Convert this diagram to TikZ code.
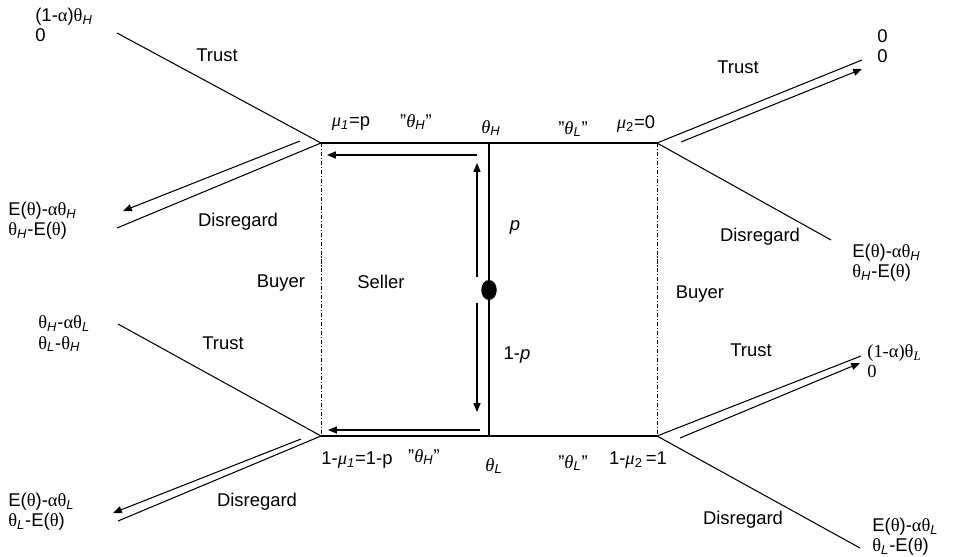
\documentclass[tikz,border=0pt]{standalone}
\usepackage{fontspec}
\setmainfont{Liberation Sans}
\newfontfamily\gk{Liberation Serif}
\usetikzlibrary{arrows.meta,shapes.geometric}
\newcommand\tht{{\gk θ}}
\newcommand\alp{{\gk α}}
\newcommand\ith{{\gk\itshape θ}}
\newcommand\imu{{\gk\itshape μ}}
\newcommand\sH{\textsubscript{\itshape H}}
\newcommand\sL{\textsubscript{\itshape L}}
\newcommand\qt{\char34\relax}
\tikzset{
	lbl/.style={font=\fontsize{10.5}{11.4}\selectfont, inner sep=0pt},
	pay/.style={lbl, align=left, anchor=west},
	edge/.style={line width=0.6pt},
	info/.style={line width=0.5pt, dash pattern=on 2.3pt off 1.1pt on 0.6pt off 1.1pt},
	move/.style={line width=0.6pt, -{Triangle[length=5pt,width=4pt]}},
	chance/.style={ellipse, fill=black, inner sep=0pt, minimum width=0.31cm, minimum height=0.4cm}
}

\begin{document}
\begin{tikzpicture}[x=0.02cm, y=-0.02cm]
			%%%%% START %%%%%
			\def\xa{321}
			\def\xm{489}
			\def\xb{657}
			\def\yh{143}
			\def\yl{436}
			\useasboundingbox (0,0) rectangle (953,557);
			
			\coordinate (bH) at (\xa,\yh);
			\coordinate (bL) at (\xa,\yl);
			\coordinate (cH) at (\xb,\yh);
			\coordinate (cL) at (\xb,\yl);
			\coordinate (sH) at (\xm,\yh);
			\coordinate (sL) at (\xm,\yl);
			
			\coordinate (trustA) at (117,33);
			\coordinate (disA) at (117,228);
			\coordinate (trustB) at (118,324);
			\coordinate (disB) at (118,521);
			\coordinate (trustC) at (862,60);
			\coordinate (disC) at (831,240);
			\coordinate (trustD) at (861,356);
			\coordinate (disD) at (860,548);
			
			% tree
			\draw[edge] (bH) -- (cH);
			\draw[edge] (bL) -- (cL);
			\draw[edge] (sH) -- (sL);
			\draw[info] (bH) -- (bL);
			\draw[info] (cH) -- (cL);
			\draw[edge] (trustA) -- (bH) -- (disA);
			\draw[edge] (trustB) -- (bL) -- (disB);
			\draw[edge] (trustC) -- (cH) -- (disC);
			\draw[edge] (trustD) -- (cL) -- (disD);
			\node[chance] (nature) at (\xm,290) {};
			
			% equilibrium path
			\coordinate (upS) at (477,277);
			\coordinate (upE) at (477,163);
			\coordinate (dnS) at (477,303);
			\coordinate (dnE) at (477,412);
			\coordinate (topS) at (477,155);
			\coordinate (topE) at (327,155);
			\coordinate (botS) at (480,430);
			\coordinate (botE) at (328,430);
			\coordinate (arA1) at (300,141);
			\coordinate (arA2) at (123,211);
			\coordinate (arB1) at (301,439);
			\coordinate (arB2) at (113,513);
			\coordinate (arC1) at (681,142);
			\coordinate (arC2) at (862,69);
			\coordinate (arD1) at (680,438);
			\coordinate (arD2) at (860,363);
			\draw[move] (upS) -- (upE);
			\draw[move] (dnS) -- (dnE);
			\draw[move] (topS) -- (topE);
			\draw[move] (botS) -- (botE);
			\draw[move] (arA1) -- (arA2);
			\draw[move] (arB1) -- (arB2);
			\draw[move] (arC1) -- (arC2);
			\draw[move] (arD1) -- (arD2);
			
			% labels
			\node[lbl] (lmu1) at (351,124) {\imu\textsubscript{\itshape 1}=p};
			\node[lbl] (lsHq) at (416,122) {\qt\ith\sH\qt};
			\node[lbl] (lthH) at (491,128) {\ith\sH};
			\node[lbl] (lsLq) at (573,129) {\qt\ith\sL\qt};
			\node[lbl] (lmu2) at (636,124) {\imu\textsubscript{2}=0};
			\node[lbl] (lmu1b) at (357,460) {1-\imu\textsubscript{\itshape 1}=1-p};
			\node[lbl] (lsHqb) at (424,457) {\qt\ith\sH\qt};
			\node[lbl] (lthL) at (494,466) {\ith\sL};
			\node[lbl] (lsLqb) at (573,463) {\qt\ith\sL\qt};
			\node[lbl] (lmu2b) at (638,460) {1-\imu\textsubscript{2}\,=1};
			\node[lbl] (lp) at (515,227) {\itshape p};
			\node[lbl] (lq) at (517,355) {1-\textit{p}};
			\node[lbl] (seller) at (381,282) {Seller};
			\node[lbl] (buyerA) at (281,283) {Buyer};
			\node[lbl] (buyerB) at (700,294) {Buyer};
			
			\node[lbl] (tA) at (217,55) {Trust};
			\node[lbl] (dA) at (238,222) {Disregard};
			\node[lbl] (tB) at (223,343) {Trust};
			\node[lbl] (dB) at (257,502) {Disregard};
			\node[lbl] (tC) at (738,67) {Trust};
			\node[lbl] (dC) at (760,237) {Disregard};
			\node[lbl] (tD) at (751,350) {Trust};
			\node[lbl] (dD) at (743,520) {Disregard};
			
			% payoffs
			\node[pay] (payA) at (35,25) {(1-\alp)\tht\sH\\0};
			\node[pay] (payA2) at (8,221) {E(\tht)-\alp\tht\sH\\\tht\sH-E(\tht)};
			\node[pay] (payB) at (38,334) {\tht\sH-\alp\tht\sL\\\tht\sL-\tht\sH};
			\node[pay] (payB2) at (8,512) {E(\tht)-\alp\tht\sL\\\tht\sL-E(\tht)};
			\node[pay] (payC) at (877,46) {0\\0};
			\node[pay] (payC2) at (852,263) {E(\tht)-\alp\tht\sH\\\tht\sH-E(\tht)};
			\node[pay, font=\gk\fontsize{10.5}{11.4}\selectfont] (payD) at (867,361) {(1-α)θ\sL\\0};
			\node[pay] (payD2) at (872,537) {E(\tht)-\alp\tht\sL\\\tht\sL-E(\tht)};
			%%%%% END %%%%%
\end{tikzpicture}
\end{document}
